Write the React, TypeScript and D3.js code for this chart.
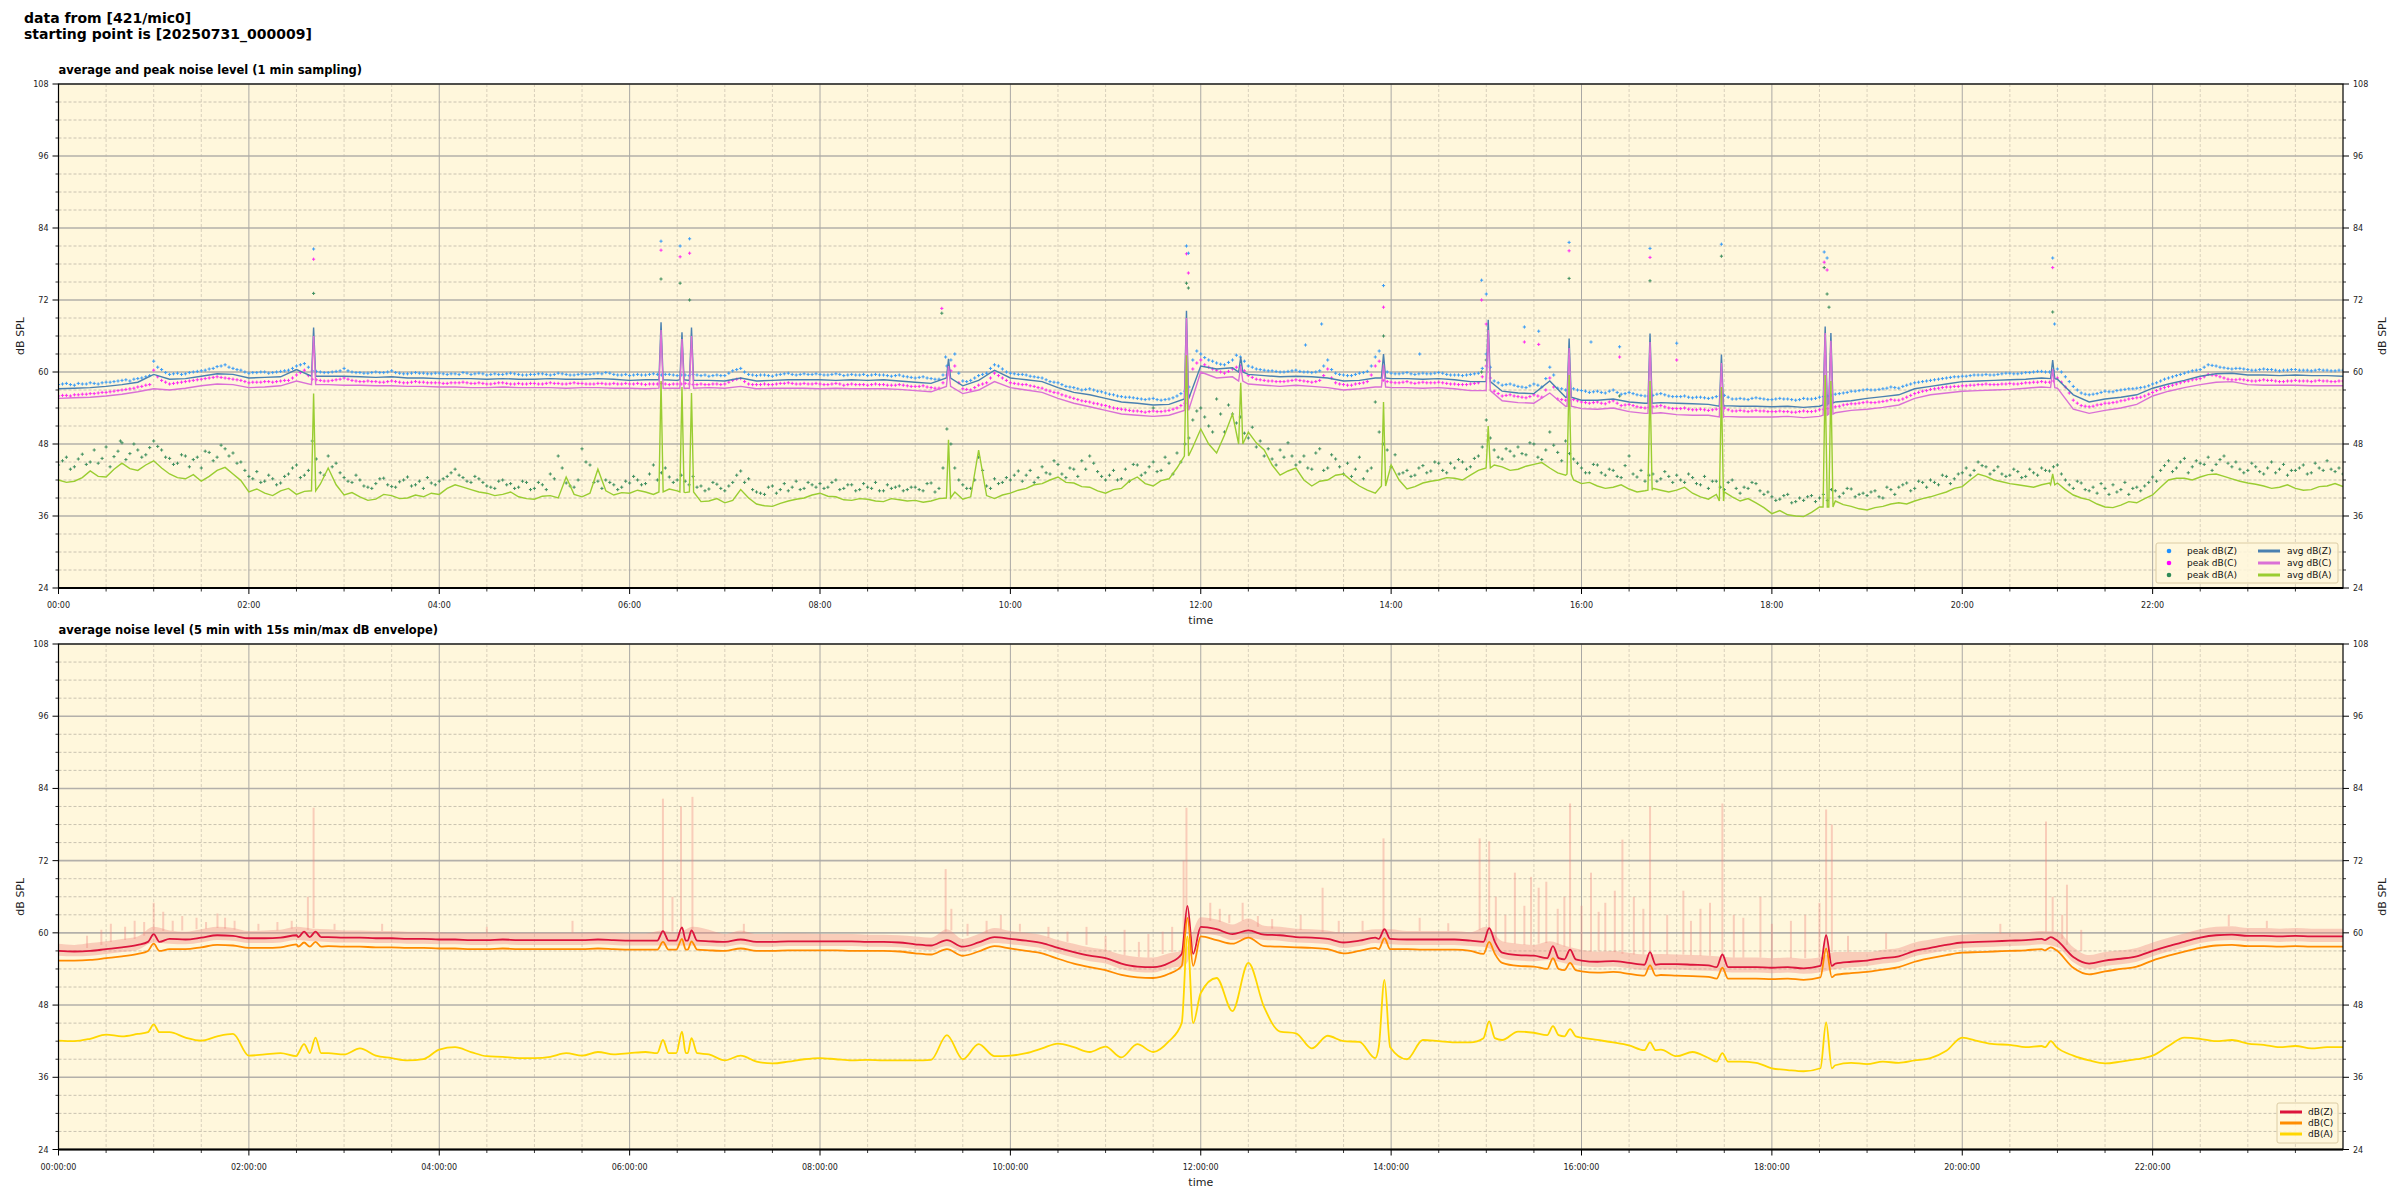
import React from "react";
import * as d3 from "d3";

// ---------------- data ----------------
// top panel: 1-min averages of dB(Z) and dB(C), read every 10 minutes (t = i/6 h)
const avgZ = [
  57.2,57.3,57.4,57.6,57.9,58.3, 59.6,58.8,58.9,59.3,59.7,59.6, 59.0,59.1,59.2,60.4,59.4,59.3,
  59.3,59.2,59.1,59.2,59.0,59.0, 58.9,58.9,58.9,58.8,58.9,58.8, 58.8,58.9,58.8,58.8,58.9,58.8,
  58.6,58.7,58.7,58.6,58.7,58.6, 58.5,59.0,58.5,58.6,58.7,58.7, 58.7,58.6,58.7,58.6,58.7,58.5,
  58.3,58.1,60.0,57.7,58.6,60.3, 59.0,58.7,58.4,57.4,56.6,56.2, 55.6,55.0,54.8,54.5,54.6,55.5,
  61.0,60.5,60.7,59.6,59.4,59.2, 59.3,59.2,59.0,58.5,58.6,59.0, 58.9,58.9,58.8,58.9,58.7,58.4,
  58.5,56.8,56.5,56.4,58.5,55.8, 55.3,55.3,55.5,55.0,54.8,54.9, 54.8,54.7,54.6,54.4,54.3,54.3,
  54.2,54.3,54.1,54.3,55.0,55.2, 55.6,55.9,56.2,57.2,57.6,58.0, 58.4,58.5,58.6,58.7,58.8,59.0,
  58.8,56.2,55.0,55.5,55.8,56.2, 57.3,58.0,58.6,59.3,59.7,59.8, 59.5,59.5,59.4,59.5,59.4,59.4,
  59.3,
];
const avgC = [
  55.6,55.7,55.8,56.0,56.3,56.7, 57.2,57.0,57.3,57.7,58.0,57.9, 57.4,57.5,57.7,58.5,58.0,57.9,
  57.8,57.8,57.7,57.7,57.6,57.6, 57.5,57.5,57.4,57.4,57.5,57.4, 57.4,57.4,57.3,57.4,57.4,57.3,
  57.3,57.2,57.2,57.3,57.3,57.4, 57.3,57.6,57.2,57.3,57.3,57.3, 57.2,57.3,57.2,57.2,57.2,57.1,
  56.9,56.7,58.0,56.4,57.0,58.4, 57.4,57.0,56.6,55.6,54.8,54.2, 53.6,53.0,52.8,52.6,52.8,53.6,
  60.0,59.0,59.2,58.0,57.8,57.6, 57.8,57.6,57.4,57.0,57.2,57.5, 57.4,57.4,57.3,57.4,57.2,56.9,
  56.8,55.2,54.9,54.8,56.5,54.3, 53.9,53.8,54.0,53.4,53.1,53.2, 52.9,52.8,52.8,52.6,52.5,52.5,
  52.5,52.6,52.4,52.6,53.2,53.6, 53.8,54.1,54.5,55.6,56.2,56.5, 56.8,56.9,57.0,57.1,57.3,57.5,
  57.3,53.8,53.1,53.6,54.0,54.6, 56.0,56.8,57.4,57.9,58.3,58.4, 57.9,57.8,57.8,57.8,57.7,57.7,
  57.7,
];
// 1-min averages of dB(A), read every 5 minutes (t = i/12 h)
const avgA = [
  42.0,41.6,41.8,42.4,43.5,42.6,42.5,43.8,44.8,43.9,43.6,44.5,
  45.2,44.0,43.0,42.4,42.2,42.9,41.8,42.6,43.6,44.1,43.0,41.9,
  40.0,40.5,39.8,39.4,40.2,40.6,39.6,40.1,40.4,41.3,44.0,41.2,
  39.5,39.9,39.2,38.6,38.8,39.6,39.4,38.9,39.0,39.5,39.2,39.8,
  39.6,40.6,41.2,40.8,40.4,40.0,39.8,39.4,39.6,40.0,39.2,38.9,
  38.8,39.3,39.4,39.0,42.5,39.6,39.2,39.8,43.8,40.2,39.5,39.9,
  39.8,40.3,40.0,39.6,39.8,40.5,40.2,39.9,38.8,38.4,38.5,38.9,
  38.2,38.6,40.4,39.0,38.0,37.7,37.6,38.1,38.5,38.8,39.0,39.5,
  39.8,39.3,39.2,38.7,38.6,38.9,38.8,38.5,38.4,38.9,38.7,38.5,
  38.6,38.3,38.5,38.9,48.5,40.0,38.8,39.2,47.0,39.4,38.9,39.5,
  39.8,40.3,40.6,41.2,41.4,42.0,42.5,41.6,41.5,40.9,40.8,40.2,
  39.8,40.4,40.6,41.8,42.5,41.4,41.0,41.9,42.2,44.0,46.4,47.5,
  50.5,48.0,46.5,49.5,53.0,51.0,50.0,48.2,47.0,44.5,42.8,43.5,
  44.0,42.0,41.0,41.8,42.0,42.8,43.0,41.9,41.0,40.3,39.8,40.5,
  44.5,42.0,40.5,40.9,41.5,41.8,42.0,42.4,42.3,42.0,42.8,43.6,
  44.0,44.5,44.2,43.6,43.8,44.3,44.6,44.9,44.0,43.2,42.8,42.0,
  41.4,41.6,41.0,40.6,40.8,41.2,40.5,40.0,40.2,40.6,40.3,40.0,
  40.3,40.8,39.8,39.2,38.8,39.6,40.0,39.2,38.5,38.9,38.2,37.4,
  36.4,36.9,36.2,36.0,35.9,36.6,37.5,38.0,38.5,37.9,37.6,37.2,
  37.0,37.4,37.6,38.0,38.2,38.0,38.5,38.9,39.2,39.6,40.0,40.6,
  40.9,42.0,43.0,42.6,42.0,41.7,41.4,41.2,41.0,40.8,41.2,41.5,
  41.5,40.4,39.5,39.0,38.7,38.0,37.5,37.4,37.8,38.4,38.2,38.9,
  39.5,40.8,42.0,42.3,42.3,42.0,42.5,42.9,43.0,42.6,42.2,41.8,
  41.5,41.3,41.0,40.6,40.8,41.2,40.6,40.3,40.4,40.9,41.0,41.4,
  40.9,
];
// short events: [time h, Z base, Z peak, C base, C peak, A base, A peak]
const topSpikes = [
  [2.68, 59.3, 67.4, 57.9, 66.0, 40.2, 56.4],
  [6.33, 58.7, 68.3, 57.3, 67.0, 40.0, 58.5],
  [6.55, 58.7, 66.6, 57.3, 65.5, 40.0, 57.5],
  [6.65, 58.6, 67.4, 57.3, 66.0, 40.0, 56.5],
  [9.35, 59.0, 62.2, 57.6, 61.0, 39.0, 48.7],
  [11.85, 55.5, 70.2, 53.6, 69.0, 46.0, 62.8],
  [12.42, 60.0, 62.5, 58.5, 61.0, 48.0, 58.2],
  [13.92, 59.0, 63.0, 57.5, 61.2, 41.0, 55.0],
  [15.02, 58.4, 68.7, 56.9, 67.0, 44.0, 51.0],
  [15.87, 55.8, 65.6, 54.3, 64.0, 43.0, 59.5],
  [16.72, 54.8, 66.4, 53.1, 65.0, 40.3, 58.5],
  [17.47, 54.3, 62.9, 52.5, 61.5, 38.5, 57.5],
  [18.56, 54.5, 67.6, 52.8, 66.5, 37.5, 59.5],
  [18.62, 54.8, 66.5, 53.0, 65.2, 37.5, 58.5],
  [20.95, 58.9, 62.0, 57.4, 60.5, 41.2, 43.0],
];
// peak values on the 5-minute marks (t = i/12 h)
const peakZ = [
  57.9,58.1,57.8,58.0,58.2,58.0,58.3,58.4,58.6,58.5,58.9,59.2,
  61.8,60.4,59.6,59.8,59.7,60.0,60.2,60.5,60.9,61.2,60.6,60.3,
  59.8,59.9,60.0,59.9,60.1,60.3,61.0,61.4,60.2,60.0,59.9,60.1,
  60.6,60.0,59.9,59.8,60.0,59.9,60.2,59.8,59.7,59.9,59.8,59.7,
  59.8,59.6,59.7,59.9,59.6,59.8,59.5,59.7,59.6,59.8,59.6,59.5,
  59.6,59.7,59.5,59.8,59.6,59.5,59.7,59.6,59.8,59.9,59.6,59.5,
  59.4,59.6,59.5,59.7,59.5,59.6,59.4,59.5,59.6,59.4,59.3,59.5,
  59.4,60.2,60.6,59.6,59.4,59.5,59.3,59.6,59.8,59.5,59.7,59.6,
  59.6,59.5,59.7,59.4,59.6,59.5,59.4,59.6,59.5,59.3,59.5,59.2,
  59.0,59.2,58.9,58.8,61.0,63.0,58.5,58.6,59.4,59.8,61.2,60.5,
  59.8,59.6,59.5,59.2,59.0,58.4,58.2,57.6,57.4,57.0,57.2,56.8,
  56.5,56.2,55.9,55.8,55.6,55.4,55.6,55.3,55.5,56.0,56.8,62.0,
  63.0,62.0,61.5,61.2,62.0,62.5,61.0,60.5,60.3,60.2,60.0,60.1,
  60.3,60.0,59.9,60.2,62.0,59.8,59.5,59.4,59.8,60.1,62.5,60.2,
  59.8,59.7,59.9,59.6,59.8,59.7,59.9,59.6,59.5,59.4,59.6,59.8,
  63.0,58.5,57.8,58.0,57.6,57.4,58.0,57.5,60.8,57.3,57.0,57.2,
  56.9,56.6,56.8,56.5,57.0,56.3,56.6,56.2,56.0,56.1,56.4,56.0,
  55.9,56.0,55.7,55.8,55.6,55.9,56.1,55.5,55.6,55.4,55.7,55.5,
  55.4,55.6,55.5,55.3,55.6,55.5,55.8,56.0,56.3,56.5,56.8,56.9,
  57.1,57.0,57.2,57.5,57.3,57.8,58.2,58.4,58.6,58.8,59.0,59.2,
  59.3,59.4,59.5,59.6,59.5,59.7,59.8,59.7,59.9,60.0,60.1,60.0,
  60.5,59.2,57.6,56.5,56.2,56.4,56.8,56.7,57.0,57.2,57.3,57.5,
  58.0,58.5,59.0,59.4,59.8,60.2,60.4,61.2,61.0,60.7,60.5,60.6,
  60.4,60.3,60.5,60.4,60.2,60.3,60.4,60.3,60.2,60.4,60.3,60.2,
  60.3,
];
// peak values in between (t = (i + 0.5)/12 h)
const peakZb = [
  58.0,57.9,58.1,58.0,58.1,58.2,58.3,58.5,58.7,58.8,59.0,59.4,
  60.8,59.9,59.7,59.6,59.9,60.1,60.3,60.6,61.0,60.8,60.4,60.0,
  59.9,60.0,59.8,60.0,60.2,60.6,61.2,60.8,60.1,59.9,60.0,60.2,
  60.2,59.9,59.8,59.9,59.9,60.0,59.9,59.7,59.8,59.8,59.7,59.8,
  59.7,59.7,59.6,59.8,59.7,59.7,59.6,59.6,59.7,59.7,59.5,59.6,
  59.7,59.6,59.6,59.7,59.5,59.6,59.6,59.7,59.7,59.8,59.5,59.6,
  59.5,59.5,59.6,59.6,59.6,59.5,59.5,59.4,59.5,59.5,59.4,59.4,
  59.8,60.4,60.0,59.5,59.5,59.4,59.5,59.7,59.6,59.6,59.6,59.7,
  59.5,59.6,59.6,59.5,59.5,59.6,59.5,59.5,59.4,59.4,59.3,59.1,
  59.1,59.0,58.8,59.5,62.0,59.8,58.4,59.0,59.6,60.6,61.0,60.0,
  59.7,59.6,59.3,59.1,58.7,58.3,57.9,57.5,57.2,57.1,57.0,56.7,
  56.3,56.0,55.8,55.7,55.5,55.5,55.4,55.4,55.7,56.4,57.5,63.5,
  62.4,61.8,61.3,61.6,62.8,61.8,60.8,60.4,60.2,60.1,60.0,60.2,
  60.1,60.0,60.0,61.0,60.4,59.6,59.4,59.6,59.9,61.0,63.5,60.0,
  59.7,59.8,59.7,59.7,59.7,59.8,59.8,59.5,59.5,59.5,59.7,60.6,
  60.8,58.2,57.9,57.8,57.5,57.7,57.8,58.9,59.5,57.2,57.1,57.0,
  56.8,56.7,56.6,56.8,56.6,56.4,56.4,56.1,56.0,56.3,56.2,55.9,
  55.9,55.8,55.8,55.7,55.7,56.0,55.8,55.5,55.5,55.6,55.6,55.4,
  55.5,55.5,55.4,55.4,55.5,55.6,55.9,56.1,56.4,56.6,56.8,57.0,
  57.0,57.1,57.3,57.4,57.6,58.0,58.3,58.5,58.7,58.9,59.1,59.2,
  59.3,59.5,59.5,59.5,59.6,59.8,59.7,59.8,59.9,60.1,60.0,60.2,
  60.0,58.4,57.0,56.3,56.3,56.6,56.7,56.9,57.1,57.2,57.4,57.7,
  58.2,58.8,59.2,59.6,60.0,60.3,60.8,61.1,60.8,60.6,60.6,60.5,
  60.3,60.4,60.4,60.3,60.3,60.4,60.3,60.3,60.3,60.3,60.2,60.3,
];
const peakC = [
  56.0,56.1,56.2,56.3,56.4,56.5,56.6,56.8,57.0,57.2,57.5,57.8,
  60.3,58.6,58.0,58.2,58.4,58.6,58.8,59.0,59.2,59.0,58.8,58.6,
  58.2,58.3,58.4,58.3,58.5,58.6,59.5,60.3,58.8,58.6,58.5,58.7,
  59.0,58.6,58.4,58.5,58.4,58.3,58.5,58.3,58.2,58.4,58.3,58.2,
  58.2,58.1,58.2,58.3,58.1,58.2,58.0,58.1,58.2,58.0,58.1,58.0,
  58.1,58.0,58.2,58.1,58.0,58.2,58.1,58.0,58.1,58.0,58.1,58.0,
  58.0,58.1,57.9,58.0,58.1,57.9,58.0,58.1,57.9,58.0,57.9,58.0,
  58.0,58.6,58.9,58.0,57.9,58.0,57.9,58.1,58.2,58.0,58.1,58.0,
  58.0,57.9,58.1,57.8,58.0,57.9,57.8,58.0,57.9,57.8,57.9,57.7,
  57.6,57.7,57.4,57.3,59.5,61.0,57.2,57.0,57.8,58.2,59.8,59.0,
  58.2,58.0,57.9,57.6,57.3,56.8,56.5,56.0,55.6,55.2,55.0,54.7,
  54.4,54.0,53.8,53.6,53.5,53.3,53.5,53.4,53.6,54.0,54.8,60.5,
  62.0,60.8,60.3,59.8,60.5,61.0,59.4,58.8,58.6,58.5,58.4,58.5,
  58.7,58.5,58.3,58.6,60.5,58.2,57.9,57.8,58.1,58.4,61.0,58.6,
  58.3,58.2,58.4,58.1,58.3,58.2,58.3,58.1,58.0,57.9,58.0,58.2,
  61.0,56.8,56.0,56.2,55.9,55.7,56.2,55.8,59.0,55.5,55.3,55.4,
  55.0,54.8,55.0,54.7,55.2,54.4,54.6,54.2,54.0,54.2,54.4,54.0,
  53.9,54.0,53.7,53.8,53.6,53.8,54.0,53.5,53.6,53.4,53.6,53.5,
  53.4,53.5,53.4,53.3,53.5,53.4,53.7,53.9,54.2,54.5,54.7,54.8,
  55.0,54.9,55.1,55.4,55.3,55.8,56.4,56.8,57.1,57.3,57.5,57.6,
  57.7,57.8,57.9,58.0,57.9,58.0,58.1,58.0,58.2,58.3,58.4,58.3,
  59.0,57.5,55.3,54.4,54.2,54.5,54.8,54.9,55.2,55.5,55.7,56.0,
  56.6,57.2,57.6,58.0,58.4,58.7,58.9,59.6,59.4,59.0,58.7,58.8,
  58.6,58.5,58.7,58.6,58.4,58.5,58.6,58.5,58.4,58.6,58.5,58.4,
  58.5,
];
const peakCb = [
  56.1,56.0,56.2,56.3,56.4,56.6,56.7,56.9,57.1,57.3,57.6,57.9,
  59.2,58.3,58.1,58.3,58.5,58.7,58.9,59.1,59.1,58.9,58.7,58.4,
  58.3,58.3,58.4,58.4,58.6,59.0,59.9,59.4,58.7,58.5,58.6,58.8,
  58.8,58.5,58.4,58.4,58.3,58.4,58.4,58.2,58.3,58.3,58.2,58.2,
  58.1,58.2,58.2,58.2,58.1,58.1,58.0,58.2,58.1,58.0,58.0,58.1,
  58.0,58.1,58.1,58.0,58.1,58.1,58.0,58.0,58.1,58.0,58.0,58.1,
  58.0,58.0,58.0,58.0,58.0,58.0,58.0,58.0,57.9,57.9,58.0,57.9,
  58.3,58.8,58.4,57.9,57.9,57.9,58.0,58.1,58.1,58.0,58.0,58.1,
  57.9,58.0,58.0,57.9,57.9,57.9,57.9,57.9,57.8,57.8,57.8,57.6,
  57.6,57.5,57.3,58.2,60.2,58.2,57.1,57.4,58.0,59.0,59.4,58.6,
  58.1,57.9,57.7,57.4,57.0,56.6,56.2,55.8,55.4,55.1,54.8,54.5,
  54.2,53.9,53.7,53.5,53.4,53.4,53.4,53.5,53.8,54.4,56.0,61.5,
  61.2,60.5,60.0,60.1,60.8,60.2,59.1,58.7,58.5,58.4,58.4,58.6,
  58.6,58.4,58.4,59.4,59.0,58.0,57.8,58.0,58.2,59.5,61.8,58.4,
  58.2,58.3,58.2,58.2,58.2,58.2,58.2,58.0,57.9,57.9,58.1,59.2,
  59.0,56.4,56.1,56.0,55.8,55.9,56.0,57.0,57.5,55.4,55.3,55.2,
  54.9,54.9,54.8,55.0,54.8,54.5,54.4,54.1,54.1,54.3,54.2,53.9,
  53.9,53.8,53.7,53.7,53.7,53.9,53.7,53.5,53.5,53.5,53.5,53.4,
  53.4,53.4,53.3,53.4,53.4,53.5,53.8,54.0,54.3,54.6,54.7,54.9,
  54.9,55.0,55.2,55.3,55.5,56.1,56.6,56.9,57.2,57.4,57.5,57.6,
  57.7,57.8,57.9,57.9,57.9,58.0,58.0,58.1,58.2,58.3,58.3,58.5,
  58.3,56.5,54.8,54.3,54.3,54.6,54.8,55.0,55.3,55.6,55.8,56.3,
  56.9,57.4,57.8,58.2,58.5,58.8,59.2,59.5,59.2,58.8,58.7,58.7,
  58.5,58.6,58.6,58.5,58.4,58.5,58.5,58.5,58.5,58.5,58.4,58.5,
];
const peakA = [
  44.5,45.8,44.2,46.3,45.0,44.8,47.5,45.9,48.2,46.4,47.0,46.2,
  48.5,47.0,45.6,44.8,46.0,45.4,44.0,46.6,45.8,47.2,46.5,45.0,
  42.6,43.4,41.8,42.2,41.5,43.0,44.5,42.8,48.5,43.2,46.0,44.8,
  42.4,41.6,42.0,40.8,41.4,42.3,40.9,41.7,42.5,41.2,40.6,41.5,
  41.8,42.6,43.8,42.4,41.6,42.2,41.0,40.6,42.0,41.4,40.8,41.6,
  40.6,41.2,43.0,46.0,41.5,40.8,47.2,44.5,41.8,42.0,41.2,40.8,
  41.5,42.0,41.4,44.5,43.2,42.5,42.0,41.8,42.6,41.0,40.5,41.3,
  40.2,41.6,43.5,42.2,40.0,39.6,41.0,40.4,40.2,41.8,40.6,41.2,
  41.4,40.8,42.0,40.6,41.2,40.4,40.8,41.6,40.2,40.6,41.0,40.4,
  40.8,40.2,41.5,40.6,50.5,44.0,41.2,40.6,45.8,41.0,42.2,41.6,
  42.0,43.5,42.8,41.6,44.2,43.0,44.6,42.4,43.8,45.2,46.0,43.4,
  42.0,43.6,42.2,41.8,44.5,43.2,45.0,43.6,44.8,46.5,48.0,52.0,
  54.0,51.0,55.5,50.0,53.0,52.5,49.0,47.5,46.0,45.5,47.0,48.2,
  44.5,46.0,43.8,47.2,44.0,45.5,43.0,42.6,45.8,43.5,55.0,48.0,
  44.2,43.0,43.6,42.8,44.4,43.5,44.8,43.2,44.0,45.0,44.2,46.0,
  52.0,47.0,45.5,46.8,47.5,46.2,48.0,45.4,50.0,46.6,48.5,45.5,
  44.0,43.2,44.5,42.8,43.6,42.4,46.0,42.5,41.8,43.0,42.2,42.6,
  42.8,41.6,42.4,41.2,40.6,41.8,40.4,42.0,39.8,40.6,41.4,39.6,
  39.2,38.8,39.6,38.4,38.6,39.4,39.0,38.6,40.2,39.8,40.5,39.6,
  39.4,40.2,39.0,40.4,40.8,41.5,40.6,41.6,42.0,41.2,42.6,42.2,
  43.2,42.8,45.0,44.2,43.6,43.0,42.8,43.4,42.6,43.2,44.0,43.5,
  44.5,42.0,40.6,41.5,40.2,39.8,40.6,41.2,40.4,39.6,40.8,41.0,
  42.5,43.6,45.2,44.0,45.6,44.2,44.8,45.8,44.6,46.0,44.2,43.8,
  43.6,44.2,43.0,45.0,43.8,42.8,43.6,44.5,43.2,44.0,45.2,43.4,
  43.0,
];
const peakAb = [
  45.2,43.8,45.5,44.6,47.0,45.6,44.2,46.8,45.4,48.0,45.8,47.4,
  47.6,45.8,44.6,46.2,44.2,45.8,46.8,45.2,47.8,46.0,44.8,43.6,
  42.2,41.6,42.8,41.2,42.6,44.0,42.4,43.6,45.5,42.8,44.2,43.2,
  41.8,42.8,41.0,40.6,42.2,41.2,40.8,42.0,41.0,41.8,42.4,41.2,
  42.2,43.2,42.8,41.8,42.6,41.6,40.8,41.8,41.2,40.6,41.8,40.4,
  41.6,40.4,42.2,44.0,41.0,42.0,45.0,41.6,40.6,41.6,40.4,41.8,
  42.6,41.2,43.0,42.0,44.0,41.6,42.8,41.2,40.8,40.2,41.6,40.6,
  41.0,42.8,41.6,40.4,39.8,40.8,39.8,41.4,40.8,40.4,41.6,40.8,
  40.6,41.6,40.4,41.2,40.2,41.4,40.6,40.2,41.2,40.8,40.2,40.8,
  40.4,41.4,40.0,44.0,48.0,42.0,40.6,42.0,43.6,40.6,41.4,42.4,
  42.8,41.8,43.6,42.4,43.2,45.2,43.0,44.0,42.6,43.8,44.8,42.6,
  42.8,42.0,43.8,44.6,42.8,44.2,43.4,45.8,43.0,45.0,49.0,53.5,
  52.5,50.0,53.0,54.5,51.5,49.8,50.8,48.5,47.2,44.5,45.8,46.0,
  45.0,44.0,46.5,43.6,46.2,44.2,44.8,43.8,42.2,44.0,50.0,47.0,
  46.2,43.2,42.6,44.0,43.2,45.0,43.6,44.8,45.4,43.8,45.6,47.5,
  49.0,45.8,47.2,46.0,46.4,48.2,45.8,47.0,47.8,45.2,46.4,44.8,
  43.2,44.6,43.2,43.8,42.6,44.4,43.0,43.6,42.8,41.8,43.4,41.6,
  42.0,43.0,41.4,42.6,41.8,40.8,41.6,40.6,40.8,41.6,40.2,40.0,
  38.6,39.4,38.2,39.0,39.2,38.4,39.6,40.4,39.2,40.6,39.2,39.8,
  40.0,39.2,40.8,39.6,41.2,40.2,41.8,40.8,41.6,42.8,41.4,43.0,
  44.0,43.6,44.4,43.0,44.2,42.6,43.8,42.4,43.8,42.8,43.6,44.2,
  43.0,41.2,41.8,40.4,40.8,41.4,39.6,40.0,41.6,40.6,40.2,41.6,
  41.8,44.4,43.4,45.0,43.2,45.2,44.6,43.6,45.4,44.8,45.0,43.2,
  44.8,43.4,44.0,43.2,44.6,43.6,44.0,43.0,44.8,43.6,43.8,44.0,
];
// isolated high peak readings: [time h, value]
const peakZOut = [[2.68,80.5],[6.33,81.8],[6.53,81.0],[6.63,82.2],[11.85,81.0],[11.87,79.8],[13.27,68.0],[13.92,74.4],[14.95,75.3],[15.0,73.0],[15.87,81.6],[16.72,80.6],[17.47,81.3],[18.55,80.0],[18.58,79.0],[20.95,79.0],[20.97,68.0],[9.32,62.5],[15.4,67.5],[15.55,66.8],[16.1,65.0],[16.4,64.2],[17.0,64.8],[14.3,63.0],[13.1,64.5]];
const peakCOut = [[2.68,78.8],[6.33,80.3],[6.53,79.2],[6.63,79.8],[9.28,70.6],[11.85,79.7],[11.87,76.5],[13.92,70.8],[14.95,72.0],[15.0,68.0],[15.87,80.2],[16.72,79.1],[18.55,78.3],[18.58,77.0],[20.95,77.4],[15.4,65.0],[15.55,64.6],[16.4,62.5],[17.0,62.0]];
const peakAOut = [[2.68,73.1],[6.33,75.5],[6.53,74.8],[6.63,72.0],[9.28,69.8],[11.85,74.8],[11.87,74.0],[13.92,66.0],[15.87,75.6],[16.72,75.2],[17.47,79.3],[18.55,77.4],[18.58,73.0],[18.6,70.8],[20.95,70.0],[15.0,62.0],[14.95,60.0],[16.4,56.0],[11.5,54.0],[0.65,48.5]];

// bottom panel: 5-min averages, read every 10 minutes
const botZ = [
  57.0,56.9,57.0,57.3,57.6,58.0, 59.6,59.0,58.9,59.2,59.6,59.5, 59.1,59.1,59.2,59.6,59.4,59.3,
  59.2,59.2,59.1,59.1,59.0,59.0, 58.9,58.9,58.8,58.8,58.9,58.8, 58.8,58.8,58.8,58.8,58.9,58.8,
  58.7,58.7,58.7,58.7,58.7,58.6, 58.5,58.9,58.5,58.5,58.6,58.6, 58.6,58.6,58.6,58.5,58.5,58.4,
  58.1,57.9,58.8,57.7,58.4,59.3, 59.0,58.7,58.3,57.5,56.8,56.2, 55.8,54.9,54.4,54.3,55.0,55.6,
  61.0,60.6,59.8,60.4,59.7,59.6, 59.3,59.2,59.0,58.4,58.7,59.2, 59.0,58.9,58.9,58.9,58.9,58.7,
  58.7,56.7,56.3,56.2,56.4,55.8, 55.4,55.2,55.3,55.0,54.7,54.8, 54.8,54.7,54.6,54.4,54.3,54.3,
  54.2,54.3,54.1,54.3,54.9,55.2, 55.4,55.8,56.1,57.0,57.5,58.0, 58.4,58.5,58.6,58.7,58.8,59.0,
  58.5,56.0,54.9,55.4,55.7,56.1, 57.0,57.8,58.5,59.2,59.6,59.7, 59.5,59.5,59.4,59.5,59.4,59.4,
  59.4,
];
const botC = [
  55.4,55.4,55.5,55.8,56.1,56.5, 57.6,57.3,57.3,57.6,58.0,57.9, 57.5,57.5,57.6,58.1,57.9,57.8,
  57.7,57.7,57.6,57.6,57.5,57.5, 57.4,57.4,57.3,57.3,57.4,57.3, 57.3,57.3,57.3,57.3,57.4,57.3,
  57.2,57.2,57.2,57.2,57.2,57.1, 57.0,57.4,57.0,57.0,57.1,57.1, 57.1,57.1,57.0,57.0,57.0,56.9,
  56.6,56.4,57.3,56.2,56.9,57.8, 57.4,57.0,56.6,55.7,54.9,54.3, 53.8,53.0,52.6,52.5,53.2,53.6,
  59.4,58.8,58.2,59.2,57.8,57.7, 57.6,57.5,57.3,56.6,57.0,57.5, 57.3,57.3,57.2,57.2,57.2,57.0,
  57.0,55.0,54.5,54.4,54.6,54.0, 53.6,53.4,53.5,53.2,52.9,53.0, 52.9,52.8,52.7,52.5,52.4,52.4,
  52.3,52.4,52.2,52.4,53.0,53.3, 53.5,53.9,54.3,55.2,55.8,56.3, 56.7,56.8,56.9,57.0,57.1,57.3,
  56.8,54.2,53.1,53.6,54.0,54.4, 55.4,56.2,56.9,57.5,57.9,58.0, 57.8,57.8,57.7,57.8,57.7,57.7,
  57.7,
];
const botA = [
  42.1,42.0,42.4,43.1,42.8,43.2, 44.6,43.5,42.6,42.1,42.8,43.2, 39.6,39.8,40.0,39.5,42.4,40.0,
  39.8,40.8,39.6,39.2,38.8,39.0, 40.6,41.0,40.2,39.5,39.4,39.2, 39.2,39.4,40.0,39.6,40.2,39.8,
  40.0,40.2,42.8,40.5,43.0,39.8, 38.8,39.6,38.6,38.3,38.6,39.0, 39.2,39.0,38.8,38.9,38.8,38.8,
  38.8,38.9,43.0,39.0,41.5,39.5, 39.6,40.0,40.8,41.6,41.0,40.2, 41.1,39.3,41.5,40.2,42.0,46.0,
  50.0,52.5,47.0,55.0,47.6,43.6, 43.3,40.8,42.9,42.0,41.9,39.2, 43.3,39.0,42.2,42.0,41.8,41.8,
  45.3,42.2,43.6,43.4,44.0,42.8, 42.6,42.2,41.8,41.3,41.0,40.6, 39.5,40.2,39.2,39.8,38.6,38.4,
  37.5,37.2,37.0,37.3,38.0,38.4, 38.2,38.6,38.4,38.8,39.2,40.4, 42.6,42.0,41.5,41.4,41.0,41.2,
  41.0,39.6,38.8,38.3,38.6,39.0, 39.6,41.2,42.6,42.4,42.0,42.2, 41.6,41.4,41.0,41.2,40.8,41.0,
  41.0,
];
const botSpikes = [
  [1.0, 58.5, 59.8, 57.0, 58.2, 43.5, 44.8],
  [2.58, 59.3, 60.2, 57.7, 58.4, 40.0, 41.5],
  [2.7, 59.3, 60.2, 57.7, 58.5, 40.0, 42.6],
  [6.35, 58.7, 60.3, 57.2, 58.5, 40.0, 42.2],
  [6.55, 58.7, 60.9, 57.2, 59.0, 40.0, 43.6],
  [6.65, 58.7, 60.4, 57.2, 58.6, 40.0, 42.5],
  [11.86, 56.5, 64.5, 54.5, 62.5, 45.0, 59.4],
  [13.93, 59.0, 60.6, 57.3, 59.1, 41.0, 52.2],
  [15.03, 58.5, 60.8, 56.5, 58.5, 42.5, 45.3],
  [15.7, 55.8, 57.8, 54.0, 55.8, 43.0, 44.5],
  [15.88, 55.6, 57.2, 53.8, 55.0, 42.8, 44.0],
  [16.72, 54.7, 56.8, 52.9, 54.6, 40.5, 41.8],
  [17.48, 54.3, 56.4, 52.4, 54.2, 38.6, 40.0],
  [18.57, 54.5, 59.6, 52.6, 57.4, 37.5, 45.1],
  [20.93, 58.8, 59.3, 57.1, 57.6, 41.0, 42.0],
];
// 15 s min / max envelope, read every 10 minutes
const envHi = [
  58.2,58.0,58.3,58.6,59.0,59.4, 61.0,60.4,60.2,60.6,61.0,60.8, 60.3,60.4,60.5,61.0,60.7,60.6,
  60.4,60.4,60.3,60.3,60.2,60.2, 60.1,60.0,60.0,60.0,60.1,60.0, 60.0,60.0,60.0,60.0,60.1,60.0,
  59.9,59.9,60.4,60.0,61.0,60.5, 59.8,60.4,59.8,59.8,59.9,59.9, 59.8,59.8,59.8,59.7,59.7,59.6,
  59.4,59.2,60.6,59.0,59.8,60.8, 60.3,60.0,59.6,58.8,58.2,57.6, 57.2,56.4,56.0,55.9,56.6,57.2,
  62.6,62.2,61.4,62.4,61.2,61.0, 60.7,60.6,60.4,60.0,60.2,60.6, 60.6,60.3,60.3,60.3,60.3,60.1,
  61.0,58.6,58.2,58.0,58.6,57.8, 57.2,56.9,57.0,56.7,56.4,56.5, 56.4,56.3,56.2,56.0,55.9,55.9,
  55.8,55.9,55.7,55.9,56.8,56.8, 56.8,57.2,57.5,58.4,58.9,59.4, 59.7,59.8,59.9,60.0,60.1,60.3,
  60.2,57.6,56.3,56.8,57.1,57.5, 58.4,59.2,59.9,60.6,61.0,61.1, 60.8,60.8,60.7,60.8,60.7,60.7,
  60.7,
];
const envLo = [
  56.2,56.1,56.2,56.5,56.8,57.2, 58.4,58.2,58.1,58.4,58.8,58.7, 58.3,58.3,58.4,58.8,58.6,58.5,
  58.4,58.4,58.3,58.3,58.2,58.2, 58.1,58.1,58.0,58.0,58.1,58.0, 58.0,58.0,58.0,58.0,58.1,58.0,
  57.9,57.9,57.9,57.9,57.9,57.8, 57.7,58.1,57.7,57.7,57.8,57.8, 57.8,57.8,57.8,57.7,57.7,57.6,
  57.3,57.1,57.8,56.9,57.6,58.3, 58.1,57.8,57.4,56.6,55.9,55.3, 54.9,54.0,53.5,53.4,54.1,54.6,
  59.8,59.6,58.8,59.2,58.8,58.7, 58.4,58.3,58.1,57.5,57.8,58.3, 58.1,58.0,58.0,58.0,58.0,57.8,
  57.6,55.8,55.4,55.3,55.5,54.9, 54.5,54.3,54.4,54.1,53.8,53.9, 53.9,53.8,53.7,53.5,53.4,53.4,
  53.3,53.4,53.2,53.4,54.0,54.3, 54.5,54.9,55.2,56.1,56.6,57.1, 57.5,57.6,57.7,57.8,57.9,58.1,
  57.6,55.1,54.0,54.5,54.8,55.2, 56.1,56.9,57.6,58.3,58.7,58.8, 58.6,58.6,58.5,58.6,58.5,58.5,
  58.5,
];
// short 15 s maxima: [time h, base, top]
const envSpikes = [
  [0.3,57.5,59.5],[0.45,58.0,60.5],[0.55,58.5,61.5],[0.7,58.8,61.0],[0.8,59.0,62.0],[0.9,59.5,61.8],
  [1.0,60.5,65.0],[1.1,60.3,63.5],[1.2,60.3,62.0],[1.3,60.4,62.8],[1.45,60.6,62.5],[1.55,60.7,61.8],
  [1.67,60.8,63.2],[1.75,60.7,62.5],[1.85,60.5,62.0],[2.1,60.4,61.5],[2.3,60.4,61.8],[2.45,60.7,62.0],
  [2.62,60.5,66.0],[2.68,60.8,80.8],[2.9,60.5,61.5],[3.4,60.3,61.5],[4.5,60.0,61.0],[5.4,60.0,62.0],
  [6.35,60.3,82.3],[6.45,60.2,66.0],[6.54,60.8,81.0],[6.66,60.6,82.6],[7.2,60.0,61.5],[9.32,60.2,70.6],
  [9.38,60.4,64.0],[9.55,59.5,61.5],[9.75,60.0,62.0],[9.9,60.6,63.0],[10.1,60.2,61.5],[10.4,59.2,61.0],
  [10.6,58.5,60.2],[10.8,58.0,61.0],[11.0,57.0,59.5],[11.2,56.3,60.5],[11.35,56.0,58.5],[11.45,55.9,59.8],
  [11.6,56.5,60.2],[11.7,56.8,61.0],[11.82,58.0,72.0],[11.85,60.0,80.8],[12.1,62.0,65.0],[12.2,61.8,64.0],
  [12.3,61.6,63.0],[12.44,62.0,65.0],[12.6,61.0,62.8],[12.75,60.7,62.3],[13.05,60.5,63.0],[13.28,60.1,67.5],
  [13.45,60.0,62.0],[13.7,60.3,62.0],[13.92,60.5,75.7],[14.3,60.3,62.5],[14.6,60.3,61.6],[14.93,60.5,75.7],
  [15.03,60.8,75.2],[15.1,58.6,66.0],[15.2,58.4,63.0],[15.3,58.2,70.0],[15.4,58.0,64.5],[15.47,58.0,69.3],
  [15.55,58.2,67.5],[15.63,58.3,68.5],[15.75,58.0,64.0],[15.82,57.7,66.0],[15.88,57.6,81.5],[16.0,57.2,64.5],
  [16.1,56.9,70.0],[16.18,57.0,63.5],[16.25,57.0,65.0],[16.35,56.8,67.0],[16.43,56.5,75.5],[16.55,56.4,66.0],
  [16.65,56.4,64.0],[16.72,56.5,81.0],[16.9,56.4,63.0],[17.07,56.4,67.0],[17.15,56.3,62.0],[17.25,56.2,64.0],
  [17.35,56.2,65.0],[17.48,56.0,81.5],[17.6,55.9,63.0],[17.7,55.9,62.5],[17.88,55.9,66.0],[18.0,55.8,61.5],
  [18.2,55.8,62.0],[18.35,55.8,63.0],[18.5,55.9,65.0],[18.57,56.8,80.5],[18.63,56.8,78.0],[18.8,56.8,59.5],
  [19.2,57.3,60.0],[20.4,59.9,61.5],[20.88,60.2,78.5],[20.95,60.2,66.0],[21.05,59.0,63.0],[21.1,58.0,68.0],
  [21.25,57.0,60.5],[22.8,61.1,63.0],[23.2,60.8,62.0],
];

const yTicks = [24, 36, 48, 60, 72, 84, 96, 108];
const xMajor = [0, 2, 4, 6, 8, 10, 12, 14, 16, 18, 20, 22];

// ---------------- layout ----------------
const X0 = 58.5, X1 = 2343;
const xS = d3.scaleLinear().domain([0, 24]).range([X0, X1]);
const BG = "#fff7dc";
const FONT = "DejaVu Sans, sans-serif";

type P = [number, number];

function merge(base: number[], step: number, spikes: number[][], bi: number, pi: number, w: number): P[] {
  const pts: P[] = base
    .map((v, i) => [i * step, v] as P)
    .filter(([t]) => !spikes.some((s) => Math.abs(s[0] - t) < w * 1.2));
  for (const s of spikes) {
    pts.push([s[0] - w, s[bi]], [s[0], s[pi]], [s[0] + w, s[bi]]);
  }
  pts.sort((a, b) => a[0] - b[0]);
  return pts;
}

const pad2 = (n: number) => (n < 10 ? "0" + n : "" + n);

function Frame({ y0, y1, title, clip }: { y0: number; y1: number; title: string; clip: string }) {
  const yS = d3.scaleLinear().domain([24, 108]).range([y1, y0]);
  const minorY = d3.range(24, 109, 3).filter((v) => v % 12 !== 0);
  const minorX = d3.range(0, 24, 0.5).filter((v) => v % 2 !== 0);
  return (
    <g>
      <rect x={X0} y={y0} width={X1 - X0} height={y1 - y0} fill={BG} />
      {minorY.map((v) => (
        <line key={"my" + v} x1={X0} x2={X1} y1={yS(v)} y2={yS(v)} stroke="#bdb6a6" strokeWidth={0.8} strokeDasharray="3,2" />
      ))}
      {minorX.map((v) => (
        <line key={"mx" + v} x1={xS(v)} x2={xS(v)} y1={y0} y2={y1} stroke="#cfc7b4" strokeWidth={0.8} strokeDasharray="3,2" />
      ))}
      {yTicks.map((v) => (
        <line key={"gy" + v} x1={X0} x2={X1} y1={yS(v)} y2={yS(v)} stroke="#b3b0aa" strokeWidth={1.6} />
      ))}
      {xMajor.map((v) => (
        <line key={"gx" + v} x1={xS(v)} x2={xS(v)} y1={y0} y2={y1} stroke="#aaa8a4" strokeWidth={1} />
      ))}
      <text x={X0} y={y0 - 10} fontFamily={FONT} fontWeight="bold" fontSize={11.5}>{title}</text>
      <defs>
        <clipPath id={clip}>
          <rect x={X0} y={y0} width={X1 - X0} height={y1 - y0} />
        </clipPath>
      </defs>
    </g>
  );
}

function Axes({ y0, y1, xfmt }: { y0: number; y1: number; xfmt: (h: number) => string }) {
  const yS = d3.scaleLinear().domain([24, 108]).range([y1, y0]);
  const minorY = d3.range(24, 109, 3).filter((v) => v % 12 !== 0);
  const minorX = d3.range(0, 24, 0.5).filter((v) => v % 2 !== 0);
  const midY = (y0 + y1) / 2;
  return (
    <g fontFamily={FONT} fill="#222">
      <rect x={X0} y={y0} width={X1 - X0} height={y1 - y0} fill="none" stroke="#000" strokeWidth={1.2} />
      <line x1={X0} x2={X1} y1={y1} y2={y1} stroke="#000" strokeWidth={1.8} />
      {yTicks.map((v) => (
        <g key={"ty" + v}>
          <line x1={X0 - 6} x2={X0} y1={yS(v)} y2={yS(v)} stroke="#000" strokeWidth={1} />
          <line x1={X1} x2={X1 + 6} y1={yS(v)} y2={yS(v)} stroke="#000" strokeWidth={1} />
          <text x={X0 - 10} y={yS(v) + 3} fontSize={8} textAnchor="end">{v}</text>
          <text x={X1 + 10} y={yS(v) + 3} fontSize={8}>{v}</text>
        </g>
      ))}
      {minorY.map((v) => (
        <g key={"tmy" + v}>
          <line x1={X0 - 3} x2={X0} y1={yS(v)} y2={yS(v)} stroke="#000" strokeWidth={0.8} />
          <line x1={X1} x2={X1 + 3} y1={yS(v)} y2={yS(v)} stroke="#000" strokeWidth={0.8} />
        </g>
      ))}
      {xMajor.map((v) => (
        <g key={"tx" + v}>
          <line x1={xS(v)} x2={xS(v)} y1={y1} y2={y1 + 6} stroke="#000" strokeWidth={1} />
          <text x={xS(v)} y={y1 + 20} fontSize={8} textAnchor="middle">{xfmt(v)}</text>
        </g>
      ))}
      {minorX.map((v) => (
        <line key={"tmx" + v} x1={xS(v)} x2={xS(v)} y1={y1} y2={y1 + 3.5} stroke="#000" strokeWidth={0.8} />
      ))}
      <text x={(X0 + X1) / 2} y={y1 + 36} fontSize={11} textAnchor="middle">time</text>
      <text transform={`translate(24,${midY}) rotate(-90)`} fontSize={11} textAnchor="middle">dB SPL</text>
      <text transform={`translate(2386,${midY}) rotate(-90)`} fontSize={11} textAnchor="middle">dB SPL</text>
    </g>
  );
}

function Plus({ pts, yS, color }: { pts: P[]; yS: d3.ScaleLinear<number, number>; color: string }) {
  const d = pts
    .map(([t, v]) => {
      const x = xS(t), y = yS(v);
      return `M${(x - 1.6).toFixed(1)},${y.toFixed(1)}h3.2M${x.toFixed(1)},${(y - 1.6).toFixed(1)}v3.2`;
    })
    .join("");
  return <path d={d} stroke={color} strokeWidth={1} fill="none" />;
}

export default function App() {
  const T0 = 84, T1 = 588, B0 = 644, B1 = 1149.5;
  const yT = d3.scaleLinear().domain([24, 108]).range([T1, T0]);
  const yB = d3.scaleLinear().domain([24, 108]).range([B1, B0]);
  const lineT = d3.line<P>().x((d) => xS(d[0])).y((d) => yT(d[1]));
  const lineB = d3.line<P>().x((d) => xS(d[0])).y((d) => yB(d[1])).curve(d3.curveMonotoneX);

  const w = 0.022;
  const zT = merge(avgZ, 1 / 6, topSpikes, 1, 2, w);
  const cT = merge(avgC, 1 / 6, topSpikes, 3, 4, w);
  const aT = merge(avgA, 1 / 12, topSpikes, 5, 6, w);

  const wb = 0.06;
  const zB = merge(botZ, 1 / 6, botSpikes, 1, 2, wb);
  const cB = merge(botC, 1 / 6, botSpikes, 3, 4, wb);
  const aB = merge(botA, 1 / 6, botSpikes, 5, 6, wb);

  const onMarks = (arr: number[]) => arr.map((v, i) => [i / 12, v] as P);
  const between = (arr: number[]) => arr.map((v, i) => [(i + 0.5) / 12, v] as P);
  const outPts = (arr: number[][]) => arr.map((d) => [d[0], d[1]] as P);

  const area = d3
    .area<number>()
    .x((_, i) => xS(i / 6))
    .y0((_, i) => yB(envLo[i]))
    .y1((v) => yB(v))
    .curve(d3.curveMonotoneX);

  const hhmm = (h: number) => pad2(h) + ":00";
  const hhmmss = (h: number) => pad2(h) + ":00:00";

  return (
    <svg width={2400} height={1200} style={{ display: "block", position: "absolute", left: 0, top: 0 }}>
      <rect width={2400} height={1200} fill="#fff" />
      <text x={24} y={23} fontFamily={FONT} fontWeight="bold" fontSize={14}>data from [421/mic0]</text>
      <text x={24} y={38.5} fontFamily={FONT} fontWeight="bold" fontSize={14}>starting point is [20250731_000009]</text>

      <Frame y0={T0} y1={T1} title="average and peak noise level (1 min sampling)" clip="clipT" />
      <g clipPath="url(#clipT)">
        <Plus pts={onMarks(peakA).concat(between(peakAb), outPts(peakAOut))} yS={yT} color="#3f8f5f" />
        <Plus pts={onMarks(peakC).concat(between(peakCb), outPts(peakCOut))} yS={yT} color="#ff2bf0" />
        <Plus pts={onMarks(peakZ).concat(between(peakZb), outPts(peakZOut))} yS={yT} color="#3a9cf5" />
        <path d={lineT(zT)!} fill="none" stroke="#4a80b0" strokeWidth={1.4} />
        <path d={lineT(cT)!} fill="none" stroke="#da70d6" strokeWidth={1.4} />
        <path d={lineT(aT)!} fill="none" stroke="#9acd32" strokeWidth={1.4} />
      </g>
      <Axes y0={T0} y1={T1} xfmt={hhmm} />
      {/* top legend */}
      <g fontFamily={FONT} fontSize={9} fill="#111">
        <rect x={2156} y={543} width={182} height={40} rx={2} fill={BG} fillOpacity={0.85} stroke="#dccca4" strokeWidth={1} />
        {[
          ["peak dB(Z)", "#1e90ff", "avg dB(Z)", "#4a80b0"],
          ["peak dB(C)", "#ff00ff", "avg dB(C)", "#da70d6"],
          ["peak dB(A)", "#2e8b57", "avg dB(A)", "#9acd32"],
        ].map((r, i) => (
          <g key={r[0]}>
            <circle cx={2169} cy={551 + i * 12} r={2.3} fill={r[1]} />
            <text x={2187} y={554 + i * 12}>{r[0]}</text>
            <line x1={2258} x2={2280} y1={551 + i * 12} y2={551 + i * 12} stroke={r[3]} strokeWidth={3} />
            <text x={2287} y={554 + i * 12}>{r[2]}</text>
          </g>
        ))}
      </g>

      <Frame y0={B0} y1={B1} title="average noise level (5 min with 15s min/max dB envelope)" clip="clipB" />
      <g clipPath="url(#clipB)">
        <path d={area(envHi)!} fill="#f08a80" fillOpacity={0.38} stroke="none" />
        {envSpikes.map((s, i) => (
          <line key={i} x1={xS(s[0])} x2={xS(s[0])} y1={yB(s[1])} y2={yB(s[2])} stroke="#f08a80" strokeOpacity={0.38} strokeWidth={2} />
        ))}
        <path d={lineB(zB)!} fill="none" stroke="#dc143c" strokeWidth={1.8} />
        <path d={lineB(cB)!} fill="none" stroke="#ff8c00" strokeWidth={1.8} />
        <path d={lineB(aB)!} fill="none" stroke="#ffd700" strokeWidth={1.8} />
      </g>
      <Axes y0={B0} y1={B1} xfmt={hhmmss} />
      <g fontFamily={FONT} fontSize={9} fill="#111">
        <rect x={2277} y={1103} width={61} height={40} rx={2} fill={BG} fillOpacity={0.85} stroke="#dccca4" strokeWidth={1} />
        {[
          ["dB(Z)", "#dc143c"],
          ["dB(C)", "#ff8c00"],
          ["dB(A)", "#ffd700"],
        ].map((r, i) => (
          <g key={r[0]}>
            <line x1={2280} x2={2302} y1={1112 + i * 11} y2={1112 + i * 11} stroke={r[1]} strokeWidth={3} />
            <text x={2308} y={1115 + i * 11}>{r[0]}</text>
          </g>
        ))}
      </g>
    </svg>
  );
}
